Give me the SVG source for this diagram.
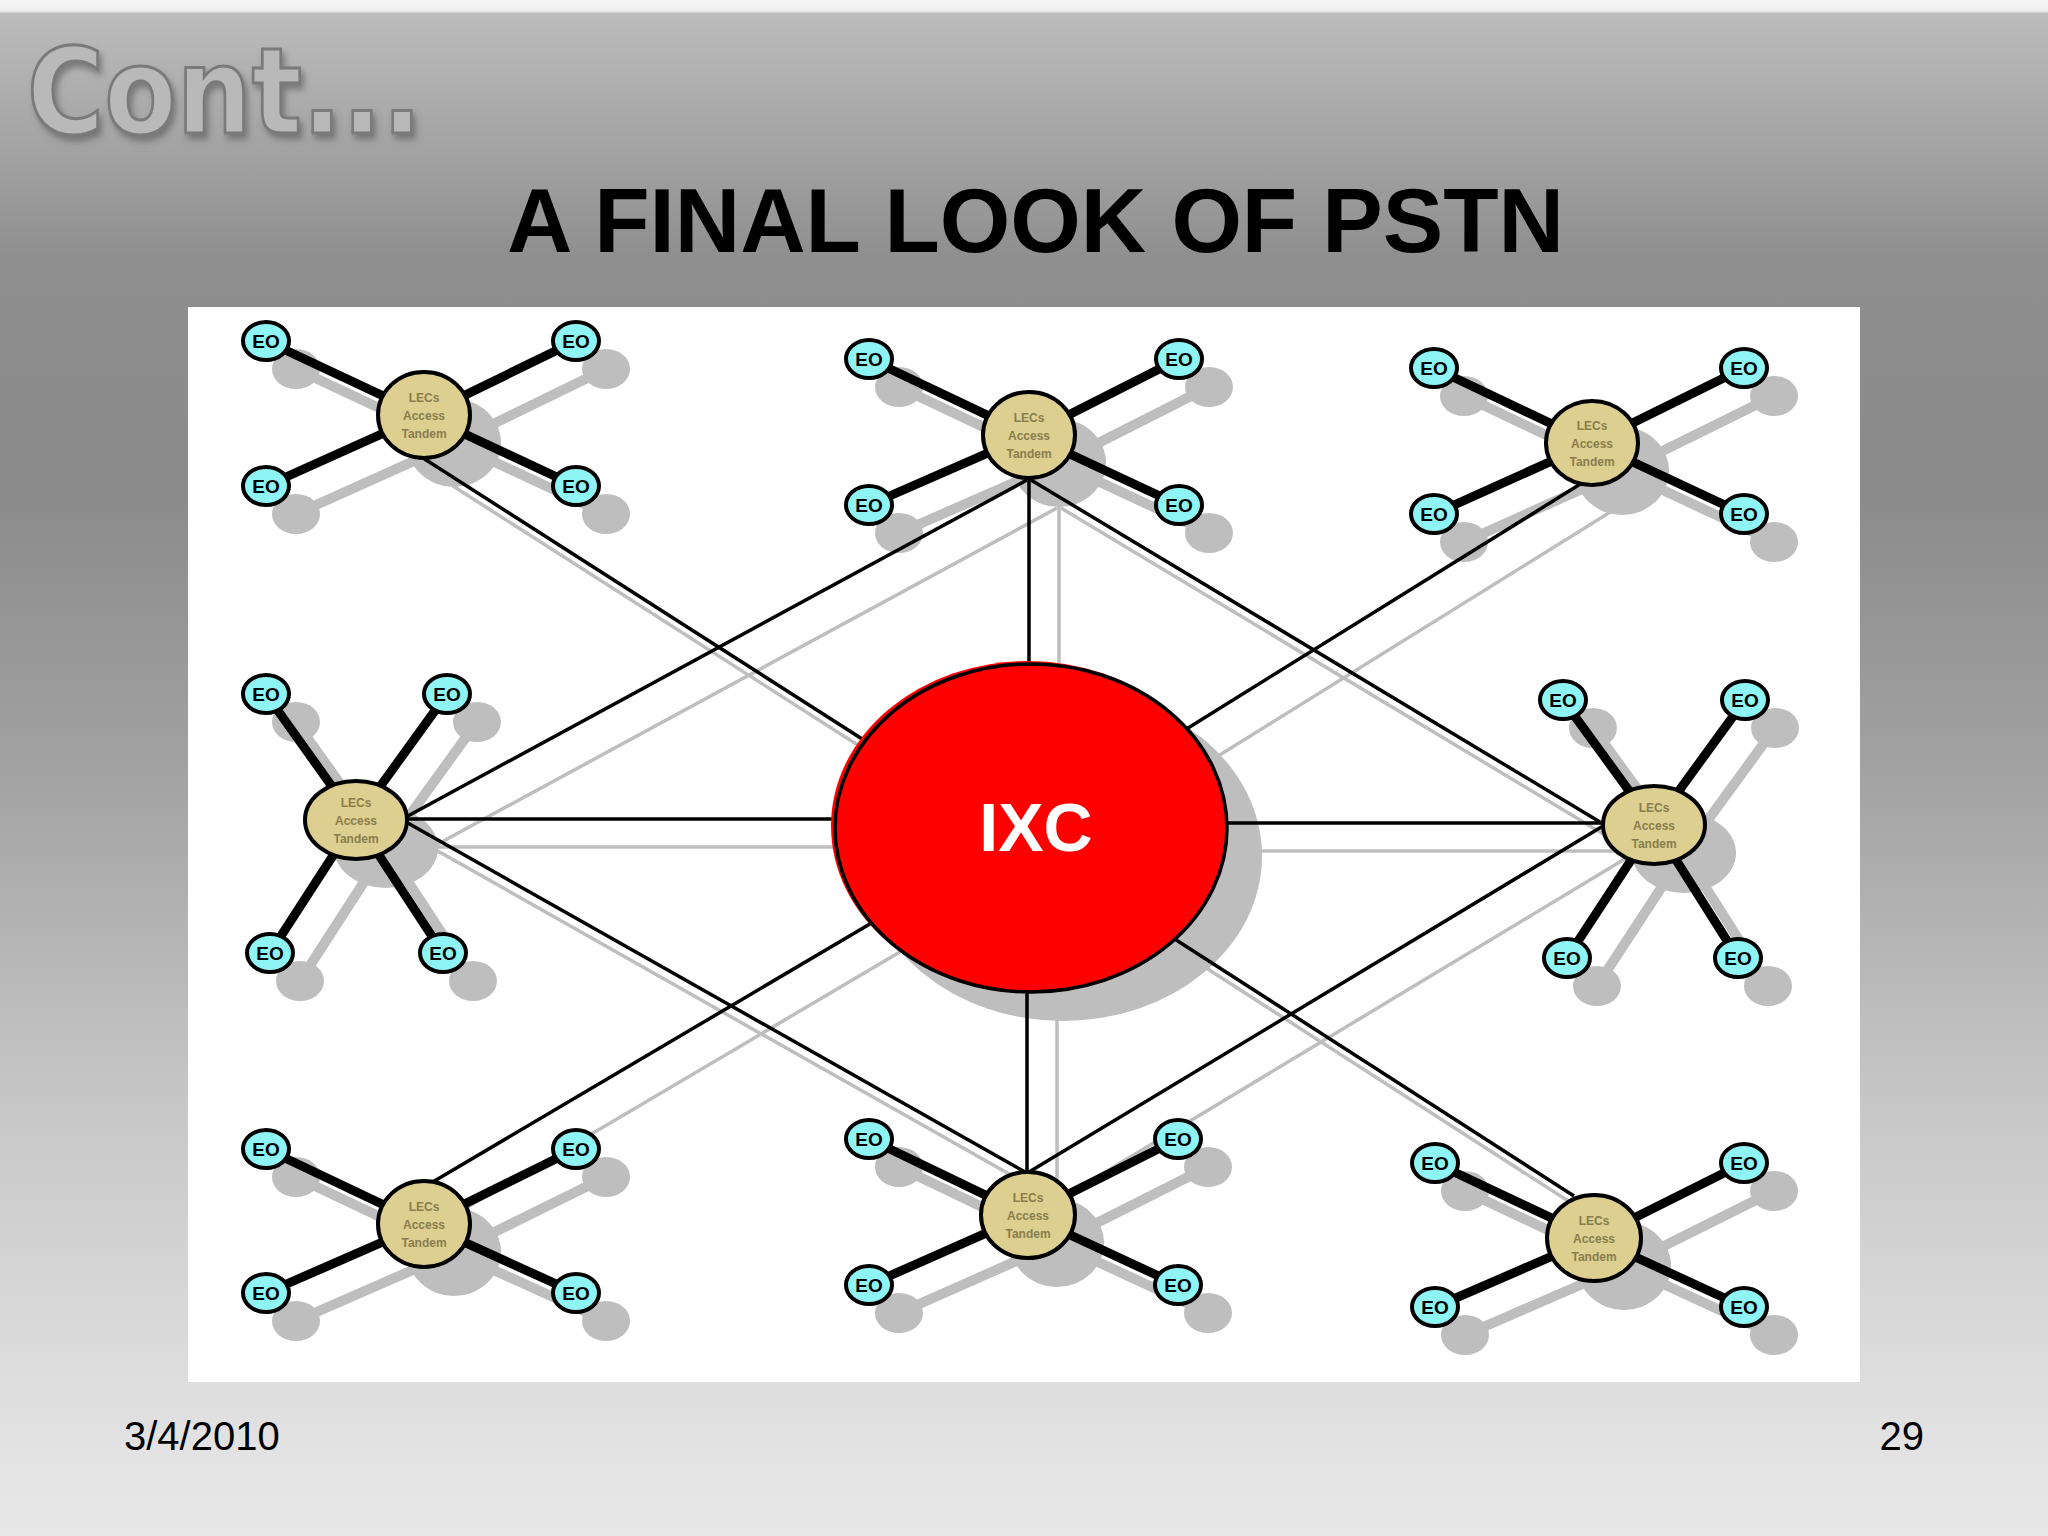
<svg xmlns="http://www.w3.org/2000/svg" width="2048" height="1536" viewBox="0 0 2048 1536">
<defs>
<linearGradient id="bg" x1="0" y1="0" x2="0" y2="1">
<stop offset="0" stop-color="#f4f4f4"/>
<stop offset="0.007" stop-color="#f0f0f0"/>
<stop offset="0.009" stop-color="#bcbcbc"/>
<stop offset="0.17" stop-color="#8e8e8e"/>
<stop offset="0.32" stop-color="#8b8b8b"/>
<stop offset="0.5" stop-color="#a2a2a2"/>
<stop offset="0.7" stop-color="#c4c4c4"/>
<stop offset="0.9" stop-color="#dedede"/>
<stop offset="1" stop-color="#e8e8e8"/>
</linearGradient>
<filter id="ds" x="-10%" y="-20%" width="130%" height="150%">
<feGaussianBlur in="SourceAlpha" stdDeviation="3"/>
<feOffset dx="3" dy="5" result="b"/>
<feFlood flood-color="#555" flood-opacity="0.6"/>
<feComposite in2="b" operator="in"/>
<feMerge><feMergeNode/><feMergeNode in="SourceGraphic"/></feMerge>
</filter>
<style>
.eo ellipse{fill:#8ef4f4;stroke:#000;stroke-width:4}
.eo text{font-family:"Liberation Sans",Arial,sans-serif;font-size:19px;font-weight:bold;fill:#000;text-anchor:middle}
.lec ellipse{fill:#dccf8f;stroke:#000;stroke-width:4}
.lec text{font-family:"Liberation Sans",Arial,sans-serif;font-size:12px;font-weight:bold;fill:#8a7d4d;text-anchor:middle}
.spoke{stroke:#000;stroke-width:9;fill:none}
.link{stroke:#000;stroke-width:3.5;fill:none}
.shs{stroke:#bebebe;stroke-width:10;fill:none}
.shl{stroke:#bebebe;stroke-width:3.5;fill:none}
.shf{fill:#bebebe;stroke:none}
</style>
</defs>

<rect x="0" y="0" width="2048" height="1536" fill="url(#bg)"/>

<text x="27" y="133" font-family="DejaVu Sans, sans-serif" font-size="120" font-weight="bold" fill="#b9b9b9" stroke="#7a7a7a" stroke-width="3" textLength="395" lengthAdjust="spacingAndGlyphs" filter="url(#ds)">Cont...</text>
<text x="507" y="252" font-family="Liberation Sans, Arial, sans-serif" font-size="91" font-weight="bold" fill="#000" textLength="1057" lengthAdjust="spacingAndGlyphs">A FINAL LOOK OF PSTN</text>

<rect x="188" y="307" width="1672" height="1075" fill="#ffffff"/>

<!-- shadows -->
<g id="shadows" transform="translate(30,28)">
<g class="shl">
<line x1="423" y1="458" x2="870" y2="744"/>
<line x1="1029" y1="478" x2="1029" y2="680"/>
<line x1="1027" y1="480" x2="406" y2="817"/>
<line x1="1031" y1="480" x2="1600" y2="822"/>
<line x1="1582" y1="483" x2="1180" y2="733"/>
<line x1="406" y1="819" x2="850" y2="819"/>
<line x1="1210" y1="823" x2="1603" y2="823"/>
<line x1="406" y1="822" x2="1025" y2="1172"/>
<line x1="1603" y1="826" x2="1029" y2="1172"/>
<line x1="431" y1="1183" x2="880" y2="918"/>
<line x1="1027" y1="975" x2="1027" y2="1172"/>
<line x1="1574" y1="1196" x2="1170" y2="936"/>
</g>
<g class="shs">
<path d="M266 341L424 415L576 341M266 486L424 415L576 486"/>
<path d="M869 359L1029 435L1179 359M869 505L1029 435L1179 505"/>
<path d="M1434 368L1592 443L1744 368M1434 514L1592 443L1744 514"/>
<path d="M266 694L356 820L447 694M270 953L356 820L443 953"/>
<path d="M1563 700L1654 825L1745 700M1567 958L1654 825L1738 958"/>
<path d="M266 1149L424 1224L576 1149M266 1293L424 1224L576 1293"/>
<path d="M869 1139L1027 1215L1178 1139M869 1285L1027 1215L1178 1285"/>
<path d="M1435 1163L1594 1238L1744 1163M1435 1307L1594 1238L1744 1307"/>
</g>
<g class="shf">
<ellipse cx="1033" cy="828" rx="199" ry="165"/>
<ellipse cx="424" cy="415" rx="47" ry="44"/>
<ellipse cx="1029" cy="435" rx="47" ry="44"/>
<ellipse cx="1592" cy="443" rx="47" ry="44"/>
<ellipse cx="356" cy="820" rx="52" ry="40"/>
<ellipse cx="1654" cy="825" rx="52" ry="40"/>
<ellipse cx="424" cy="1224" rx="47" ry="44"/>
<ellipse cx="1027" cy="1215" rx="47" ry="44"/>
<ellipse cx="1594" cy="1238" rx="47" ry="44"/>
<ellipse cx="266" cy="341" rx="24" ry="20"/><ellipse cx="576" cy="341" rx="24" ry="20"/><ellipse cx="266" cy="486" rx="24" ry="20"/><ellipse cx="576" cy="486" rx="24" ry="20"/>
<ellipse cx="869" cy="359" rx="24" ry="20"/><ellipse cx="1179" cy="359" rx="24" ry="20"/><ellipse cx="869" cy="505" rx="24" ry="20"/><ellipse cx="1179" cy="505" rx="24" ry="20"/>
<ellipse cx="1434" cy="368" rx="24" ry="20"/><ellipse cx="1744" cy="368" rx="24" ry="20"/><ellipse cx="1434" cy="514" rx="24" ry="20"/><ellipse cx="1744" cy="514" rx="24" ry="20"/>
<ellipse cx="266" cy="694" rx="24" ry="20"/><ellipse cx="447" cy="694" rx="24" ry="20"/><ellipse cx="270" cy="953" rx="24" ry="20"/><ellipse cx="443" cy="953" rx="24" ry="20"/>
<ellipse cx="1563" cy="700" rx="24" ry="20"/><ellipse cx="1745" cy="700" rx="24" ry="20"/><ellipse cx="1567" cy="958" rx="24" ry="20"/><ellipse cx="1738" cy="958" rx="24" ry="20"/>
<ellipse cx="266" cy="1149" rx="24" ry="20"/><ellipse cx="576" cy="1149" rx="24" ry="20"/><ellipse cx="266" cy="1293" rx="24" ry="20"/><ellipse cx="576" cy="1293" rx="24" ry="20"/>
<ellipse cx="869" cy="1139" rx="24" ry="20"/><ellipse cx="1178" cy="1139" rx="24" ry="20"/><ellipse cx="869" cy="1285" rx="24" ry="20"/><ellipse cx="1178" cy="1285" rx="24" ry="20"/>
<ellipse cx="1435" cy="1163" rx="24" ry="20"/><ellipse cx="1744" cy="1163" rx="24" ry="20"/><ellipse cx="1435" cy="1307" rx="24" ry="20"/><ellipse cx="1744" cy="1307" rx="24" ry="20"/>
</g>
</g>

<!-- connectors -->
<g id="connectors">
<g class="link">
<line x1="423" y1="458" x2="870" y2="744"/>
<line x1="1029" y1="478" x2="1029" y2="680"/>
<line x1="1027" y1="480" x2="406" y2="817"/>
<line x1="1031" y1="480" x2="1600" y2="822"/>
<line x1="1582" y1="483" x2="1180" y2="733"/>
<line x1="406" y1="819" x2="850" y2="819"/>
<line x1="1210" y1="823" x2="1603" y2="823"/>
<line x1="406" y1="822" x2="1025" y2="1172"/>
<line x1="1603" y1="826" x2="1029" y2="1172"/>
<line x1="431" y1="1183" x2="880" y2="918"/>
<line x1="1027" y1="975" x2="1027" y2="1172"/>
<line x1="1574" y1="1196" x2="1170" y2="936"/>
</g>
<g class="spoke">
<path d="M266 341L424 415L576 341M266 486L424 415L576 486"/>
<path d="M869 359L1029 435L1179 359M869 505L1029 435L1179 505"/>
<path d="M1434 368L1592 443L1744 368M1434 514L1592 443L1744 514"/>
<path d="M266 694L356 820L447 694M270 953L356 820L443 953"/>
<path d="M1563 700L1654 825L1745 700M1567 958L1654 825L1738 958"/>
<path d="M266 1149L424 1224L576 1149M266 1293L424 1224L576 1293"/>
<path d="M869 1139L1027 1215L1178 1139M869 1285L1027 1215L1178 1285"/>
<path d="M1435 1163L1594 1238L1744 1163M1435 1307L1594 1238L1744 1307"/>
</g>
</g>

<!-- IXC -->
<g id="ixc">
<ellipse cx="1028" cy="826" rx="197" ry="165" fill="#ff0000"/>
<ellipse cx="1031" cy="828" rx="196" ry="164" fill="#ff0000" stroke="#000" stroke-width="3.5"/>
<text x="1036" y="851" font-family="Liberation Sans, Arial, sans-serif" font-size="68" font-weight="bold" fill="#ffffff" text-anchor="middle">IXC</text>
</g>

<!-- LEC nodes -->
<g id="lec-tl" class="lec"><ellipse cx="424" cy="415" rx="46" ry="43"/><text x="424" y="402">LECs</text><text x="424" y="420">Access</text><text x="424" y="438">Tandem</text></g>
<g id="lec-tc" class="lec"><ellipse cx="1029" cy="435" rx="46" ry="43"/><text x="1029" y="422">LECs</text><text x="1029" y="440">Access</text><text x="1029" y="458">Tandem</text></g>
<g id="lec-tr" class="lec"><ellipse cx="1592" cy="443" rx="46" ry="42"/><text x="1592" y="430">LECs</text><text x="1592" y="448">Access</text><text x="1592" y="466">Tandem</text></g>
<g id="lec-ml" class="lec"><ellipse cx="356" cy="820" rx="51" ry="39"/><text x="356" y="807">LECs</text><text x="356" y="825">Access</text><text x="356" y="843">Tandem</text></g>
<g id="lec-mr" class="lec"><ellipse cx="1654" cy="825" rx="51" ry="39"/><text x="1654" y="812">LECs</text><text x="1654" y="830">Access</text><text x="1654" y="848">Tandem</text></g>
<g id="lec-bl" class="lec"><ellipse cx="424" cy="1224" rx="46" ry="43"/><text x="424" y="1211">LECs</text><text x="424" y="1229">Access</text><text x="424" y="1247">Tandem</text></g>
<g id="lec-bc" class="lec"><ellipse cx="1028" cy="1215" rx="47" ry="43"/><text x="1028" y="1202">LECs</text><text x="1028" y="1220">Access</text><text x="1028" y="1238">Tandem</text></g>
<g id="lec-br" class="lec"><ellipse cx="1594" cy="1238" rx="47" ry="43"/><text x="1594" y="1225">LECs</text><text x="1594" y="1243">Access</text><text x="1594" y="1261">Tandem</text></g>

<!-- EO nodes -->
<g id="eo-tl-1" class="eo"><ellipse cx="266" cy="341" rx="23" ry="19"/><text x="266" y="348">EO</text></g>
<g id="eo-tl-2" class="eo"><ellipse cx="576" cy="341" rx="23" ry="19"/><text x="576" y="348">EO</text></g>
<g id="eo-tl-3" class="eo"><ellipse cx="266" cy="486" rx="23" ry="19"/><text x="266" y="493">EO</text></g>
<g id="eo-tl-4" class="eo"><ellipse cx="576" cy="486" rx="23" ry="19"/><text x="576" y="493">EO</text></g>
<g id="eo-tc-1" class="eo"><ellipse cx="869" cy="359" rx="23" ry="19"/><text x="869" y="366">EO</text></g>
<g id="eo-tc-2" class="eo"><ellipse cx="1179" cy="359" rx="23" ry="19"/><text x="1179" y="366">EO</text></g>
<g id="eo-tc-3" class="eo"><ellipse cx="869" cy="505" rx="23" ry="19"/><text x="869" y="512">EO</text></g>
<g id="eo-tc-4" class="eo"><ellipse cx="1179" cy="505" rx="23" ry="19"/><text x="1179" y="512">EO</text></g>
<g id="eo-tr-1" class="eo"><ellipse cx="1434" cy="368" rx="23" ry="19"/><text x="1434" y="375">EO</text></g>
<g id="eo-tr-2" class="eo"><ellipse cx="1744" cy="368" rx="23" ry="19"/><text x="1744" y="375">EO</text></g>
<g id="eo-tr-3" class="eo"><ellipse cx="1434" cy="514" rx="23" ry="19"/><text x="1434" y="521">EO</text></g>
<g id="eo-tr-4" class="eo"><ellipse cx="1744" cy="514" rx="23" ry="19"/><text x="1744" y="521">EO</text></g>
<g id="eo-ml-1" class="eo"><ellipse cx="266" cy="694" rx="23" ry="19"/><text x="266" y="701">EO</text></g>
<g id="eo-ml-2" class="eo"><ellipse cx="447" cy="694" rx="23" ry="19"/><text x="447" y="701">EO</text></g>
<g id="eo-ml-3" class="eo"><ellipse cx="270" cy="953" rx="23" ry="19"/><text x="270" y="960">EO</text></g>
<g id="eo-ml-4" class="eo"><ellipse cx="443" cy="953" rx="23" ry="19"/><text x="443" y="960">EO</text></g>
<g id="eo-mr-1" class="eo"><ellipse cx="1563" cy="700" rx="23" ry="19"/><text x="1563" y="707">EO</text></g>
<g id="eo-mr-2" class="eo"><ellipse cx="1745" cy="700" rx="23" ry="19"/><text x="1745" y="707">EO</text></g>
<g id="eo-mr-3" class="eo"><ellipse cx="1567" cy="958" rx="23" ry="19"/><text x="1567" y="965">EO</text></g>
<g id="eo-mr-4" class="eo"><ellipse cx="1738" cy="958" rx="23" ry="19"/><text x="1738" y="965">EO</text></g>
<g id="eo-bl-1" class="eo"><ellipse cx="266" cy="1149" rx="23" ry="19"/><text x="266" y="1156">EO</text></g>
<g id="eo-bl-2" class="eo"><ellipse cx="576" cy="1149" rx="23" ry="19"/><text x="576" y="1156">EO</text></g>
<g id="eo-bl-3" class="eo"><ellipse cx="266" cy="1293" rx="23" ry="19"/><text x="266" y="1300">EO</text></g>
<g id="eo-bl-4" class="eo"><ellipse cx="576" cy="1293" rx="23" ry="19"/><text x="576" y="1300">EO</text></g>
<g id="eo-bc-1" class="eo"><ellipse cx="869" cy="1139" rx="23" ry="19"/><text x="869" y="1146">EO</text></g>
<g id="eo-bc-2" class="eo"><ellipse cx="1178" cy="1139" rx="23" ry="19"/><text x="1178" y="1146">EO</text></g>
<g id="eo-bc-3" class="eo"><ellipse cx="869" cy="1285" rx="23" ry="19"/><text x="869" y="1292">EO</text></g>
<g id="eo-bc-4" class="eo"><ellipse cx="1178" cy="1285" rx="23" ry="19"/><text x="1178" y="1292">EO</text></g>
<g id="eo-br-1" class="eo"><ellipse cx="1435" cy="1163" rx="23" ry="19"/><text x="1435" y="1170">EO</text></g>
<g id="eo-br-2" class="eo"><ellipse cx="1744" cy="1163" rx="23" ry="19"/><text x="1744" y="1170">EO</text></g>
<g id="eo-br-3" class="eo"><ellipse cx="1435" cy="1307" rx="23" ry="19"/><text x="1435" y="1314">EO</text></g>
<g id="eo-br-4" class="eo"><ellipse cx="1744" cy="1307" rx="23" ry="19"/><text x="1744" y="1314">EO</text></g>

<text x="124" y="1450" font-family="Liberation Sans, Arial, sans-serif" font-size="40" fill="#000">3/4/2010</text>
<text x="1924" y="1450" font-family="Liberation Sans, Arial, sans-serif" font-size="40" fill="#000" text-anchor="end">29</text>
</svg>
